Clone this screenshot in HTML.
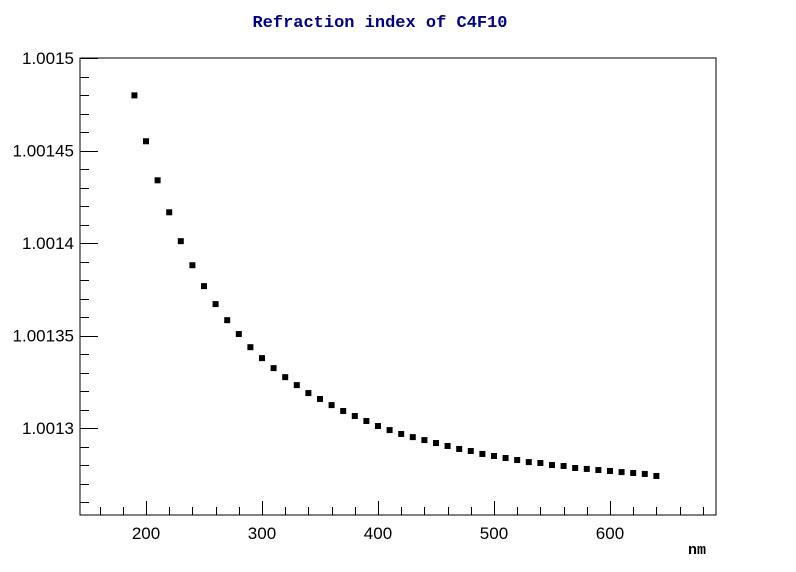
<!DOCTYPE html>
<html><head><meta charset="utf-8"><style>
body{margin:0;background:#fff;}
svg{display:block;}
</style></head><body>
<svg id="chart" width="796" height="572" xmlns="http://www.w3.org/2000/svg">
<rect x="0" y="0" width="796" height="572" fill="#fff"/>
<text x="380" y="27" text-anchor="middle" font-family="Liberation Mono, monospace" font-weight="bold" font-size="17" fill="#00008b">Refraction index of C4F10</text>
<rect x="80" y="58" width="636" height="457" fill="none" stroke="#000" stroke-width="1"/>
<g id="axes"></g>
<g id="points"></g>
<text x="697" y="554" text-anchor="middle" font-family="Liberation Mono, monospace" font-weight="bold" font-size="15" fill="#000">nm</text>
</svg>
<script>
const wavelengths=[190,200,210,220,230,240,250,260,270,280,290,300,310,320,330,340,350,360,370,380,390,400,410,420,430,440,450,460,470,480,490,500,510,520,530,540,550,560,570,580,590,600,610,620,630,640];
const indexValues=[1.0014798,1.001455,1.0014339,1.0014166,1.001401,1.001388,1.0013767,1.001367,1.0013583,1.0013508,1.0013437,1.0013378,1.0013324,1.0013275,1.0013232,1.0013189,1.0013157,1.0013124,1.0013092,1.0013065,1.0013038,1.0013011,1.0012989,1.0012968,1.0012951,1.0012935,1.0012919,1.0012903,1.0012887,1.0012876,1.001286,1.0012849,1.0012838,1.0012827,1.0012816,1.0012811,1.00128,1.0012795,1.0012784,1.0012779,1.0012773,1.0012768,1.0012762,1.0012757,1.0012752,1.0012741];
const xTickLabels=["200","300","400","500","600"];
const xTickValues=[200,300,400,500,600];
const yTickLabels=["1.0013","1.00135","1.0014","1.00145","1.0015"];
const yTickValues=[1.0013,1.00135,1.0014,1.00145,1.0015];

const NS="http://www.w3.org/2000/svg";
const L=80,R=716,T=58,B=515;
const xMin=143.1,xMax=691.4;
const yMin=1.0012530,yMax=1.0015;
function xs(v){return L+(v-xMin)/(xMax-xMin)*(R-L);}
function ys(v){return B-(v-yMin)/(yMax-yMin)*(B-T);}
const axes=document.getElementById('axes');
function line(x1,y1,x2,y2,name){const l=document.createElementNS(NS,'line');l.setAttribute('x1',x1);l.setAttribute('y1',y1);l.setAttribute('x2',x2);l.setAttribute('y2',y2);l.setAttribute('stroke','#000');l.setAttribute('stroke-width','1');


axes.appendChild(l);}
function text(x,y,s,anchor,name){const t=document.createElementNS(NS,'text');t.setAttribute('x',x);t.setAttribute('y',y);t.setAttribute('text-anchor',anchor);t.setAttribute('font-family','Liberation Sans, sans-serif');t.setAttribute('font-size','17');t.textContent=s;


axes.appendChild(t);}
for(let v=1.00126;v<=1.0015+1e-9;v+=0.00001){const y=Math.round(ys(v))+0.5;const major=Math.abs(((v-1.0013)/0.00005)-Math.round((v-1.0013)/0.00005))<1e-3;line(L,y,L+(major?18:9),y,major?'y-major-tick':'y-minor-tick');}
yTickValues.forEach((v,i)=>text(L-6,ys(v)+6,yTickLabels[i],'end','y-tick-label'));
for(let v=160;v<=680;v+=20){const x=Math.round(xs(v))+0.5;let len=v%100===0?14:8;line(x,B,x,B-len,v%100===0?'x-major-tick':'x-minor-tick');}
xTickValues.forEach((v,i)=>text(xs(v),539,xTickLabels[i],'middle','x-tick-label'));
const pts=document.getElementById('points');
wavelengths.forEach((w,i)=>{const r=document.createElementNS(NS,'rect');r.setAttribute('x',xs(w)-3);r.setAttribute('y',ys(indexValues[i])-3);r.setAttribute('width',6);r.setAttribute('height',6);r.setAttribute('fill','#000');


pts.appendChild(r);});
</script>
</body></html>
